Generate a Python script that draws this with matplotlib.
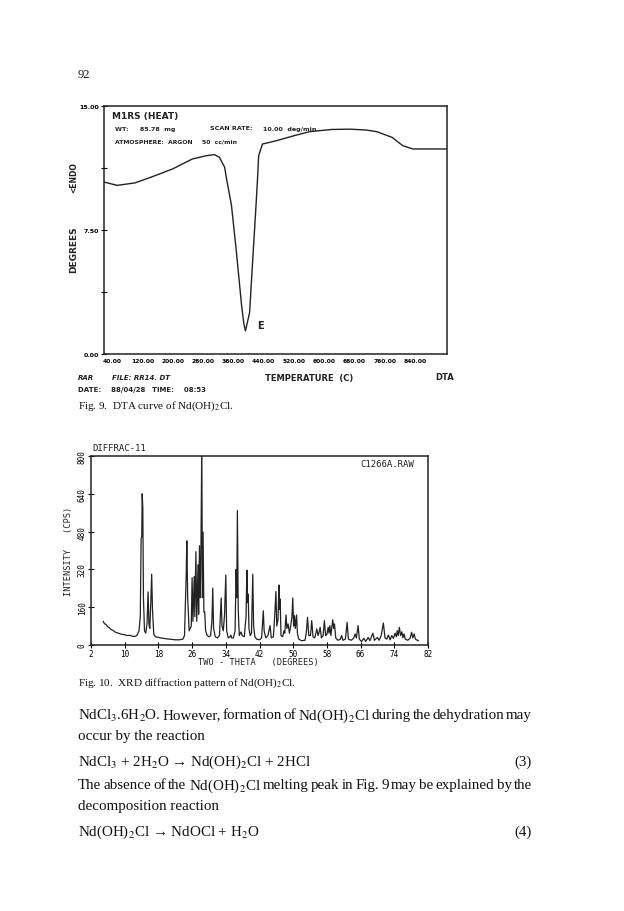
import numpy as np
import matplotlib
matplotlib.use("Agg")
import matplotlib.pyplot as plt

plt.rcParams['mathtext.fontset'] = 'stix'

W, H = 624, 912

# ---- DTA data (Fig. 9) ----
dta_temp = [18, 53, 100, 143, 200, 252, 290, 310, 323, 337, 342, 355, 368, 382, 388,
            392, 396, 403, 411, 419, 424, 427, 437, 474, 520, 562, 620, 668, 710,
            739, 780, 808, 835, 880, 925]
dta_signal = [10.4, 10.2, 10.35, 10.7, 11.2, 11.8, 12.0, 12.06, 11.9, 11.3, 10.6, 9.0,
              6.2, 2.9, 1.8, 1.4, 1.8, 2.5, 5.6, 8.6, 10.6, 12.0, 12.7, 12.9, 13.2,
              13.45, 13.58, 13.6, 13.55, 13.45, 13.1, 12.6, 12.4, 12.4, 12.4]
dta_xticks = [40, 120, 200, 280, 360, 440, 520, 600, 680, 760, 840]
dta_yticks = [0, 3.75, 7.5, 11.25, 15]
dta_ylabels = ['0.00', '', '7.50', '', '15.00']

# ---- XRD data (Fig. 10) ----
xrd_2theta = [4.9, 5.2, 5.5, 5.9, 6.3, 6.8, 7.2, 7.7, 8.2, 8.8, 9.3, 9.9, 10.5, 11.1, 11.7,
              12.3, 12.9, 13.4, 13.7, 13.9, 14.05, 14.15, 14.3, 14.45, 14.7, 15.0, 15.3,
              15.55, 15.75, 15.95, 16.2, 16.4, 16.6, 16.9, 17.3, 18.0, 18.5, 19.2, 20.0,
              21.0, 22.0, 23.0, 23.8, 24.2, 24.4, 24.6, 24.75, 24.95, 25.3, 25.8, 26.0,
              26.2, 26.5, 26.65, 26.9, 27.1, 27.4, 27.55, 27.75, 27.9, 28.05, 28.3, 28.45,
              28.6, 28.8, 29.0, 29.2, 29.6, 30.0, 30.4, 30.7, 30.9, 31.1, 31.5, 32.0, 32.5,
              32.7, 32.9, 33.1, 33.4, 33.7, 34.0, 34.2, 34.6, 35.0, 35.2, 35.4, 35.8, 36.2,
              36.45, 36.6, 36.75, 36.95, 37.2, 37.6, 37.9, 38.4, 38.8, 39.0, 39.15, 39.3,
              39.5, 39.8, 40.1, 40.4, 40.6, 40.9, 41.3, 42.0, 42.5, 42.75, 42.9, 43.1, 43.5,
              44.0, 44.5, 44.8, 45.3, 45.6, 45.9, 46.1, 46.4, 46.6, 46.75, 46.9, 47.1, 47.5,
              47.8, 48.0, 48.3, 48.5, 48.8, 49.1, 49.4, 49.7, 49.9, 50.1, 50.3, 50.5, 50.8,
              51.0, 51.3, 52.0, 52.8, 53.1, 53.4, 53.7, 54.1, 54.4, 54.7, 55.1, 55.4, 55.6,
              55.9, 56.1, 56.4, 56.7, 57.1, 57.4, 57.7, 58.0, 58.3, 58.5, 58.7, 58.95, 59.2,
              59.4, 59.6, 59.8, 60.1, 60.6, 61.2, 61.5, 61.8, 62.4, 62.8, 63.1, 63.8, 64.4,
              64.7, 65.0, 65.4, 65.7, 66.2, 66.8, 67.2, 67.8, 68.2, 68.9, 69.3, 70.0, 70.4,
              70.9, 71.4, 71.8, 72.2, 72.6, 73.0, 73.4, 73.8, 74.2, 74.5, 74.7, 74.95, 75.2,
              75.5, 75.8, 76.05, 76.3, 76.6, 77.2, 77.8, 78.1, 78.4, 78.7, 79.0, 79.7]
xrd_intensity = [100, 90, 88, 78, 74, 65, 62, 55, 52, 48, 45, 44, 40, 41, 38,
                 36, 40, 60, 120, 450, 460, 640, 580, 200, 60, 50, 90,
                 225, 90, 70, 180, 300, 150, 45, 35, 32, 30, 28, 26,
                 24, 22, 22, 25, 40, 170, 300, 441, 200, 60, 80, 285,
                 100, 290, 120, 395, 100, 340, 130, 420, 200, 300, 850, 200,
                 478, 140, 140, 60, 40, 35, 40, 100, 241, 70, 35, 30, 40,
                 120, 199, 80, 60, 128, 296, 60, 30, 35, 42, 30, 30, 60,
                 320, 200, 569, 150, 40, 55, 40, 35, 120, 317, 180, 216,
                 70, 40, 50, 300, 80, 35, 25, 22, 30, 100, 145, 60, 30,
                 40, 82, 30, 35, 120, 226, 80, 110, 254, 150, 195, 40, 35,
                 60, 50, 127, 70, 89, 50, 80, 120, 199, 80, 124, 70, 127,
                 50, 25, 18, 20, 50, 117, 40, 40, 103, 35, 30, 50, 68,
                 40, 50, 75, 30, 40, 103, 40, 45, 75, 50, 82, 40, 80,
                 107, 70, 89, 30, 20, 25, 40, 20, 25, 96, 25, 20, 30,
                 47, 30, 82, 25, 15, 28, 15, 32, 18, 50, 20, 32, 20,
                 40, 93, 30, 25, 42, 22, 40, 28, 50, 35, 61, 40, 75,
                 40, 56, 30, 47, 25, 20, 30, 54, 30, 47, 25, 18]
xrd_xticks = [2, 10, 18, 26, 34, 42, 50, 58, 66, 74, 82]
xrd_yticks = [0, 160, 320, 480, 640, 800]


def rect(left, top, right, bottom):
    return [left / W, 1 - bottom / H, (right - left) / W, (bottom - top) / H]


def ftext(x, y, s, **kw):
    kw.setdefault('va', 'center')
    return fig.text(x / W, 1 - y / H, s, **kw)


fig = plt.figure(figsize=(W / 100, H / 100), dpi=100)

plot_font = dict(family='DejaVu Sans', weight='bold', color='#222222')
mono = dict(family='DejaVu Sans Mono', color='#222222')
serif = dict(family='Liberation Serif', color='#111111')

ftext(78, 75, '92', fontsize=9, **serif)

#####################################
# DTA
ax1 = fig.add_axes(rect(104, 107, 447, 355))
ax1.plot(dta_temp, dta_signal, color='#222222', lw=1.0)
ax1.set_xlim(18, 925)
ax1.set_ylim(0, 15)
ax1.set_yticks(dta_yticks)
ax1.set_yticklabels(dta_ylabels)
ax1.set_xticks(dta_xticks)
ax1.set_xticklabels(['%.2f' % t for t in dta_xticks])
ax1.tick_params(axis='y', direction='inout', length=5, width=0.8, labelsize=4.6, pad=1)
ax1.tick_params(axis='x', direction='in', length=0, labelsize=4.3, pad=3)
for lab in ax1.get_xticklabels() + ax1.get_yticklabels():
    lab.set_fontweight('bold')
for sp in ax1.spines.values():
    sp.set_linewidth(1.1)
    sp.set_color('#222222')

ftext(112, 116, 'M1RS (HEAT)', fontsize=6.5, **plot_font)
ftext(115, 129, 'WT:     85.78  mg', fontsize=4.6, **plot_font)
ftext(210, 129, 'SCAN RATE:', fontsize=4.6, **plot_font)
ftext(263, 129, '10.00  deg/min', fontsize=4.6, **plot_font)
ftext(115, 142, 'ATMOSPHERE:  ARGON', fontsize=4.4, **plot_font)
ftext(202, 142, '50  cc/min', fontsize=4.4, **plot_font)
ftext(257, 326, 'E', fontsize=7, **plot_font)

ftext(74, 178, '<ENDO', fontsize=5.5, rotation=90, ha='center', **plot_font)
ftext(74, 250, 'DEGREES', fontsize=6.5, rotation=90, ha='center', **plot_font)

ftext(78, 378, 'RAR', fontsize=5, style='italic', **plot_font)
ftext(112, 378, 'FILE: RR14. DT', fontsize=5, style='italic', **plot_font)
ftext(265, 378, 'TEMPERATURE  (C)', fontsize=6, **plot_font)
ftext(435, 378, 'DTA', fontsize=6, **plot_font)
ftext(78, 390, 'DATE:    88/04/28', fontsize=5, **plot_font)
ftext(152, 390, 'TIME:    08:53', fontsize=5, **plot_font)

ftext(78, 406, r'Fig. 9.  DTA curve of Nd(OH)$_2$Cl.', fontsize=8, **serif)

#####################################
# XRD
ax2 = fig.add_axes(rect(91, 457, 428, 646))
ax2.plot(xrd_2theta, xrd_intensity, color='#222222', lw=0.9)
ax2.set_xlim(2, 82)
ax2.set_ylim(0, 800)
ax2.set_xticks(xrd_xticks)
ax2.set_yticks(xrd_yticks)
ax2.set_yticklabels([str(v) for v in xrd_yticks], rotation=90, va='center')
ax2.tick_params(axis='both', direction='inout', length=4, width=0.8, labelsize=5.5, pad=1)
for lab in ax2.get_xticklabels() + ax2.get_yticklabels():
    lab.set_family('DejaVu Sans Mono')
for sp in ax2.spines.values():
    sp.set_linewidth(1.1)
    sp.set_color('#222222')

ftext(92, 449, 'DIFFRAC-11', fontsize=6.5, **mono)
ftext(360, 465, 'C1266A.RAW', fontsize=6.5, **mono)
ftext(258, 663, 'TWO - THETA   (DEGREES)', fontsize=6.2, ha='center', **mono)
ftext(68, 551, 'INTENSITY   (CPS)', fontsize=6.2, rotation=90, ha='center', **mono)

ftext(78, 683, r'Fig. 10.  XRD diffraction pattern of Nd(OH)$_2$Cl.', fontsize=8, **serif)

#####################################
# body text
body_size = 10.8
renderer = fig.canvas.get_renderer()


def justify(y, words, x0=78, x1=532):
    items = [ftext(x0, y, w, fontsize=body_size, **serif) for w in words]
    widths = [t.get_window_extent(renderer).width for t in items]
    gap = (x1 - x0 - sum(widths)) / (len(words) - 1)
    x = x0
    for t, w in zip(items, widths):
        t.set_x(x / W)
        x += w + gap


justify(716, [r'NdCl$_3$.6H$_2$O.', 'However,', 'formation', 'of', r'Nd(OH)$_2$Cl',
              'during', 'the', 'dehydration', 'may'])
ftext(78, 737, 'occur by the reaction', fontsize=body_size, **serif)
ftext(78, 762, r'NdCl$_3$ + 2H$_2$O → Nd(OH)$_2$Cl + 2HCl', fontsize=body_size, **serif)
ftext(532, 762, '(3)', fontsize=body_size, ha='right', **serif)
justify(786, ['The', 'absence', 'of', 'the', r'Nd(OH)$_2$Cl', 'melting', 'peak', 'in',
              'Fig.', '9', 'may', 'be', 'explained', 'by', 'the'])
ftext(78, 807, 'decomposition reaction', fontsize=body_size, **serif)
ftext(78, 832, r'Nd(OH)$_2$Cl → NdOCl + H$_2$O', fontsize=body_size, **serif)
ftext(532, 832, '(4)', fontsize=body_size, ha='right', **serif)

fig.savefig('out.png', dpi=100)
